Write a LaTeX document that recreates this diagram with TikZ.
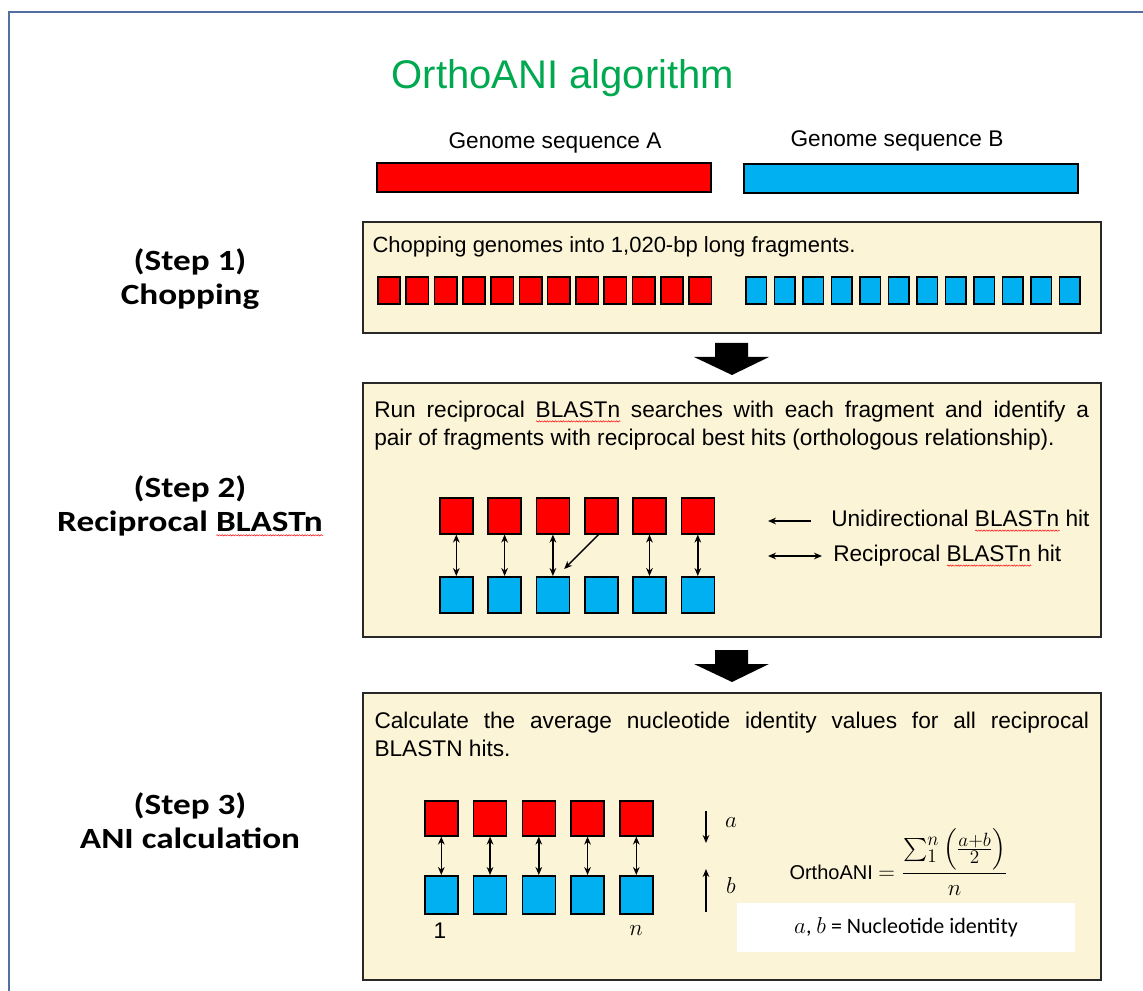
\documentclass[tikz,border=0pt]{standalone}
\usepackage{fontspec}
\usepackage{amsmath}
\setmainfont{Liberation Sans}
\newfontfamily\labfont[FakeStretch=1.2]{Carlito}
\newfontfamily\idfont{Carlito}
\usetikzlibrary{fit,calc,arrows.meta,decorations.pathmorphing}

\definecolor{fragred}{RGB}{255,0,0}
\definecolor{fragblue}{RGB}{0,176,240}
\definecolor{stepfill}{RGB}{252,244,214}
\definecolor{titlegreen}{RGB}{0,168,80}
\definecolor{framebl}{RGB}{84,112,160}

% red spell-check wave under a word
\newcommand{\squig}[1]{\setbox0\hbox{#1}\rlap{\tikz[baseline=0pt,reset cm]\draw[red,line width=0.35pt,decorate,decoration={snake,amplitude=0.5pt,segment length=2pt}] (0pt,-2.8pt) -- (\wd0,-2.8pt);}\box0\relax}

\tikzset{every picture/.style={line width=0.75pt}}
\tikzset{
  stepbox/.style={draw={rgb,255:red,40;green,40;blue,40}, fill=stepfill, line width=1.5pt, inner sep=0pt},
  seqbar/.style={draw=black, line width=1.5pt, inner sep=0pt},
  frag/.style={draw=black, line width=1.2pt, inner sep=0pt, anchor=north west},
  hit/.style={{Stealth[length=6pt,width=5pt]}-{Stealth[length=6pt,width=5pt]}, line width=1.1pt},
  onehit/.style={-{Stealth[length=6pt,width=5pt]}, line width=1.1pt},
  steplabel/.style={font=\labfont\bfseries\fontsize{22}{25.5}\selectfont, align=center, inner sep=0.75pt},
  bodytext/.style={font=\fontsize{17}{21}\selectfont, inner sep=0.75pt},
  pics/downarrow/.style={code={\fill (-17,15) -- (16,15) -- (16,1) -- (37,1) -- (0,-17) -- (-38,1) -- (-17,1) -- cycle;}}
}

\begin{document}
\begin{tikzpicture}[x=0.75pt,y=0.75pt,yscale=-1,xscale=1]
%set diagram size 1143 x 991
\path[use as bounding box] (0,0) rectangle (1143,991);

%Frame lines
\draw[framebl, line width=1.8pt] (9,991) -- (9,12) -- (1143,12);

% Title
\node[text=titlegreen, font=\fontsize{30}{34}\selectfont, inner sep=0.75pt] (title) at (563,78) {OrthoANI algorithm};

%Genome bars
\node[seqbar, fill=fragred, fit={(377,163) (711,192)}] (seqA) {};
\node[seqbar, fill=fragblue, fit={(744,164) (1078,193)}] (seqB) {};
% Text Node
\node[font=\fontsize{17}{20}\selectfont, inner sep=0.75pt] (seqAtxt) at (555,143) {Genome sequence A};
% Text Node
\node[font=\fontsize{17}{20}\selectfont, inner sep=0.75pt] (seqBtxt) at (897,141) {Genome sequence B};

%Step boxes
\node[stepbox, fit={(363,222) (1101,333)}] (st1) {};
\node[stepbox, fit={(363,383) (1101,637)}] (st2) {};
\node[stepbox, fit={(363,693) (1101,980)}] (st3) {};

%Big arrows between steps
\pic at ($(st1.south)!0.5!(st2.north)$) {downarrow};
\pic at ($(st2.south)!0.5!(st3.north)$) {downarrow};

% Step labels
\node[steplabel] (lab1) at (190,279) {(Step 1)\\Chopping};
\node[steplabel] (lab2) at (190,506) {(Step 2)\\Reciprocal \squig{BLASTn}};
\node[steplabel] (lab3) at (190,821) {(Step 3)\\ANI calculation};

%---------- Step 1
% Text Node
\node[bodytext, font=\fontsize{16.5}{20}\selectfont, anchor=base west] (s1txt) at (371,253) {Chopping genomes into 1,020-bp long fragments.};
\foreach \i in {0,...,11}{
  \node[frag, fill=fragred, minimum width=16.8pt, minimum height=20.25pt] (ca\i) at ({377+28.3*\i},276) {};
  \node[frag, fill=fragblue, minimum width=15.5pt, minimum height=20.25pt] (cb\i) at ({745+28.5*\i},276) {};
}

%---------- Step 2
% Text Node
\node[bodytext, anchor=north west, text width=536pt, align=justify] (s2txt) at (373,400) {Run reciprocal \squig{BLASTn} searches with each fragment and identify a\linebreak pair of fragments with reciprocal best hits (orthologous relationship).};
\foreach \i in {1,...,6}{
  \node[frag, fill=fragred, minimum width=24.75pt, minimum height=27pt] (ra\i) at ({439+48.3*(\i-1)},497) {};
  \node[frag, fill=fragblue, minimum width=24.75pt, minimum height=27pt] (rb\i) at ({439+48.3*(\i-1)},576) {};
}
\foreach \i in {1,2,3,5,6}
  \draw[hit] (ra\i) -- (rb\i);
\draw[onehit] ([xshift=-2pt]ra4.south) -- ([shift={(-6,-7)}]rb3.north east);

% Legend
\coordinate (uniR) at (811,521);
\coordinate (uniL) at (768,521);
\draw[onehit] (uniR) -- (uniL);
\node[bodytext, anchor=west] (unitxt) at (830,521) {Unidirectional \squig{BLASTn} hit};
\coordinate (recL) at (768,556);
\coordinate (recR) at (822,556);
\draw[hit] (recL) -- (recR);
\node[bodytext, anchor=west] (rectxt) at (832,556) {Reciprocal \squig{BLASTn} hit};

%---------- Step 3
% Text Node
\node[bodytext, anchor=north west, text width=536pt, align=justify] (s3txt) at (373,711) {Calculate the average nucleotide identity values for all reciprocal\linebreak BLASTN hits.};
\foreach \i in {1,...,5}{
  \node[frag, fill=fragred, minimum width=24.75pt, minimum height=26.25pt] (na\i) at ({424+48.75*(\i-1)},800) {};
  \node[frag, fill=fragblue, minimum width=24.75pt, minimum height=28.5pt] (nb\i) at ({424+48.75*(\i-1)},875) {};
  \draw[hit] (na\i) -- (nb\i);
}
% Text Node
\node[bodytext] (one) at (440,931) {1};
% Text Node
\node[bodytext] (enn) at (636,931) {$n$};

% a and b
\coordinate (atop) at (706,811);
\coordinate (abot) at (706,843);
\draw[onehit] (atop) -- (abot);
\node[bodytext] (alab) at (731,823) {$a$};
\coordinate (bbot) at (706,912);
\coordinate (btop) at (706,869);
\draw[onehit] (bbot) -- (btop);
\node[bodytext] (blab) at (731,885) {$b$};

% Formula
\node[anchor=west, inner sep=0pt, font=\fontsize{15}{18}\selectfont] (ani) at (789,862) {OrthoANI {\fontsize{19}{22}\selectfont$=\dfrac{\sum_{1}^{n}\left(\frac{a+b}{2}\right)}{n}$}};

% Identity box
\node[fill=white, inner sep=0pt, fit={(737,903) (1075,952)}] (idbox) {};
\node[font=\idfont\fontsize{16.5}{20}\selectfont, inner sep=0.75pt] (idtxt) at (idbox.center) {$a$, $b$ = Nucleotide identity};

\end{tikzpicture}
\end{document}
